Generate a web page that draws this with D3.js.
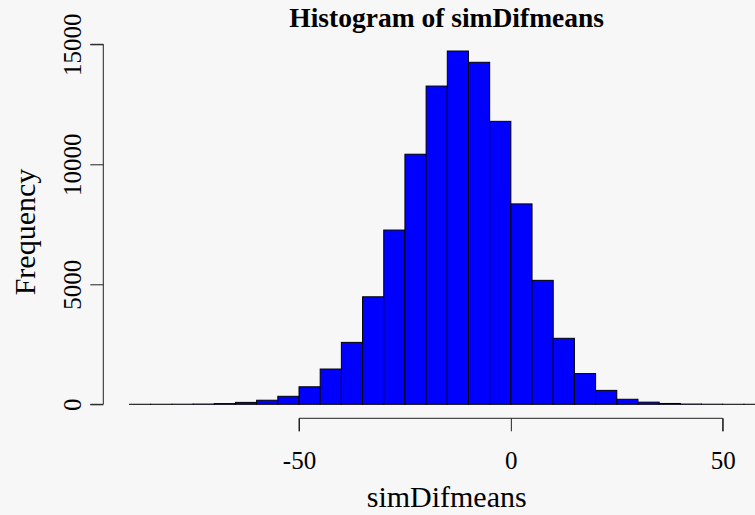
<!DOCTYPE html>
<html>
<head>
<meta charset="utf-8">
<script src="https://cdn.jsdelivr.net/npm/d3@7"></script>
<style>
  html, body { margin: 0; padding: 0; background: #f7f7f7; }
  svg { display: block; }
</style>
</head>
<body>
<svg id="chart" width="755" height="515"></svg>
<script>
// bin edges, 5 wide, from -90 up to 65
var binStarts = [-90,-85,-80,-75,-70,-65,-60,-55,-50,-45,-40,-35,-30,-25,-20,-15,
		 -10,-5,0,5,10,15,20,25,30,35,40,45,50,55,60];
var binWidth = 5;
// counts
var counts = [1,2,4,10,30,80,170,333,730,1470,2580,4480,7260,10420,13260,14720,
	      14250,11790,8350,5165,2750,1280,580,210,90,35,10,4,1,1,0];
var xTicks = [-50, 0, 50];
var yTicks = [0, 5000, 10000, 15000];

var svg = d3.select("#chart");

//scales line up with the R plot region (partly cropped on the right)
var x = d3.scaleLinear().domain([-50, 50]).range([299, 722.7]);
var y = d3.scaleLinear().domain([0, 15000]).range([404.3, 44.3]);

// plain hyphen for negatives, as R prints them
var fmt = function(d){ return String(d); };

var bins = binStarts.map(function(s, i){ return {x0: s, x1: s + binWidth, n: counts[i]}; });

// bars
svg.append("g")
    .selectAll("rect").data(bins)
    .enter().append("rect")
    .attr("x", function(d){ return x(d.x0); })
    .attr("width", function(d){ return x(d.x1) - x(d.x0); })
    .attr("y", function(d){ return y(d.n); })
    .attr("height", function(d){ return y(0) - y(d.n); })
    .attr("fill", "#0000ff")
    .attr("stroke", "#000")
    .attr("stroke-width", 1);

// x axis, R style: line only between first and last tick
var xAxis = d3.axisBottom(x).tickValues(xTicks).tickSize(13).tickPadding(20)
    .tickFormat(fmt);
var gx = svg.append("g").attr("transform", "translate(0,418.3)").call(xAxis);
gx.select(".domain").attr("d", "M" + x(-50) + ",13V0H" + x(50) + "V13");

var yAxis = d3.axisLeft(y).tickValues(yTicks).tickSize(13).tickPadding(10)
    .tickFormat(fmt);
var gy = svg.append("g").attr("transform", "translate(103.3,0)").call(yAxis);
gy.select(".domain").attr("d", "M-13," + y(0) + "H0V" + y(15000) + "H-13");

[gx, gy].forEach(function(g){
    g.selectAll(".domain, line").attr("stroke", "#222").attr("stroke-width", 1);
    g.selectAll("text")
	.attr("fill", "#000")
	.attr("font-family", "'Liberation Serif', serif")
	.attr("font-size", 25);
});

// rotate the y labels like R does (las=0)
gy.selectAll(".tick text")
    .attr("transform", "rotate(-90)")
    .attr("x", 0)
    .attr("y", -22)
    .attr("dy", 0)
    .attr("text-anchor", "middle");

// titles
svg.append("text")
    .attr("x", 446.7).attr("y", 27)
    .attr("text-anchor", "middle")
    .attr("font-family", "'Liberation Serif', serif")
    .attr("font-weight", "bold")
    .attr("font-size", 27.5)
    .text("Histogram of simDifmeans");

svg.append("text")
    .attr("x", 446.7).attr("y", 507)
    .attr("text-anchor", "middle")
    .attr("font-family", "'Liberation Serif', serif")
    .attr("font-size", 30)
    .text("simDifmeans");

svg.append("text")
    .attr("transform", "translate(35,232) rotate(-90)")
    .attr("text-anchor", "middle")
    .attr("font-family", "'Liberation Serif', serif")
    .attr("font-size", 30)
    .text("Frequency");
</script>
</body>
</html>
